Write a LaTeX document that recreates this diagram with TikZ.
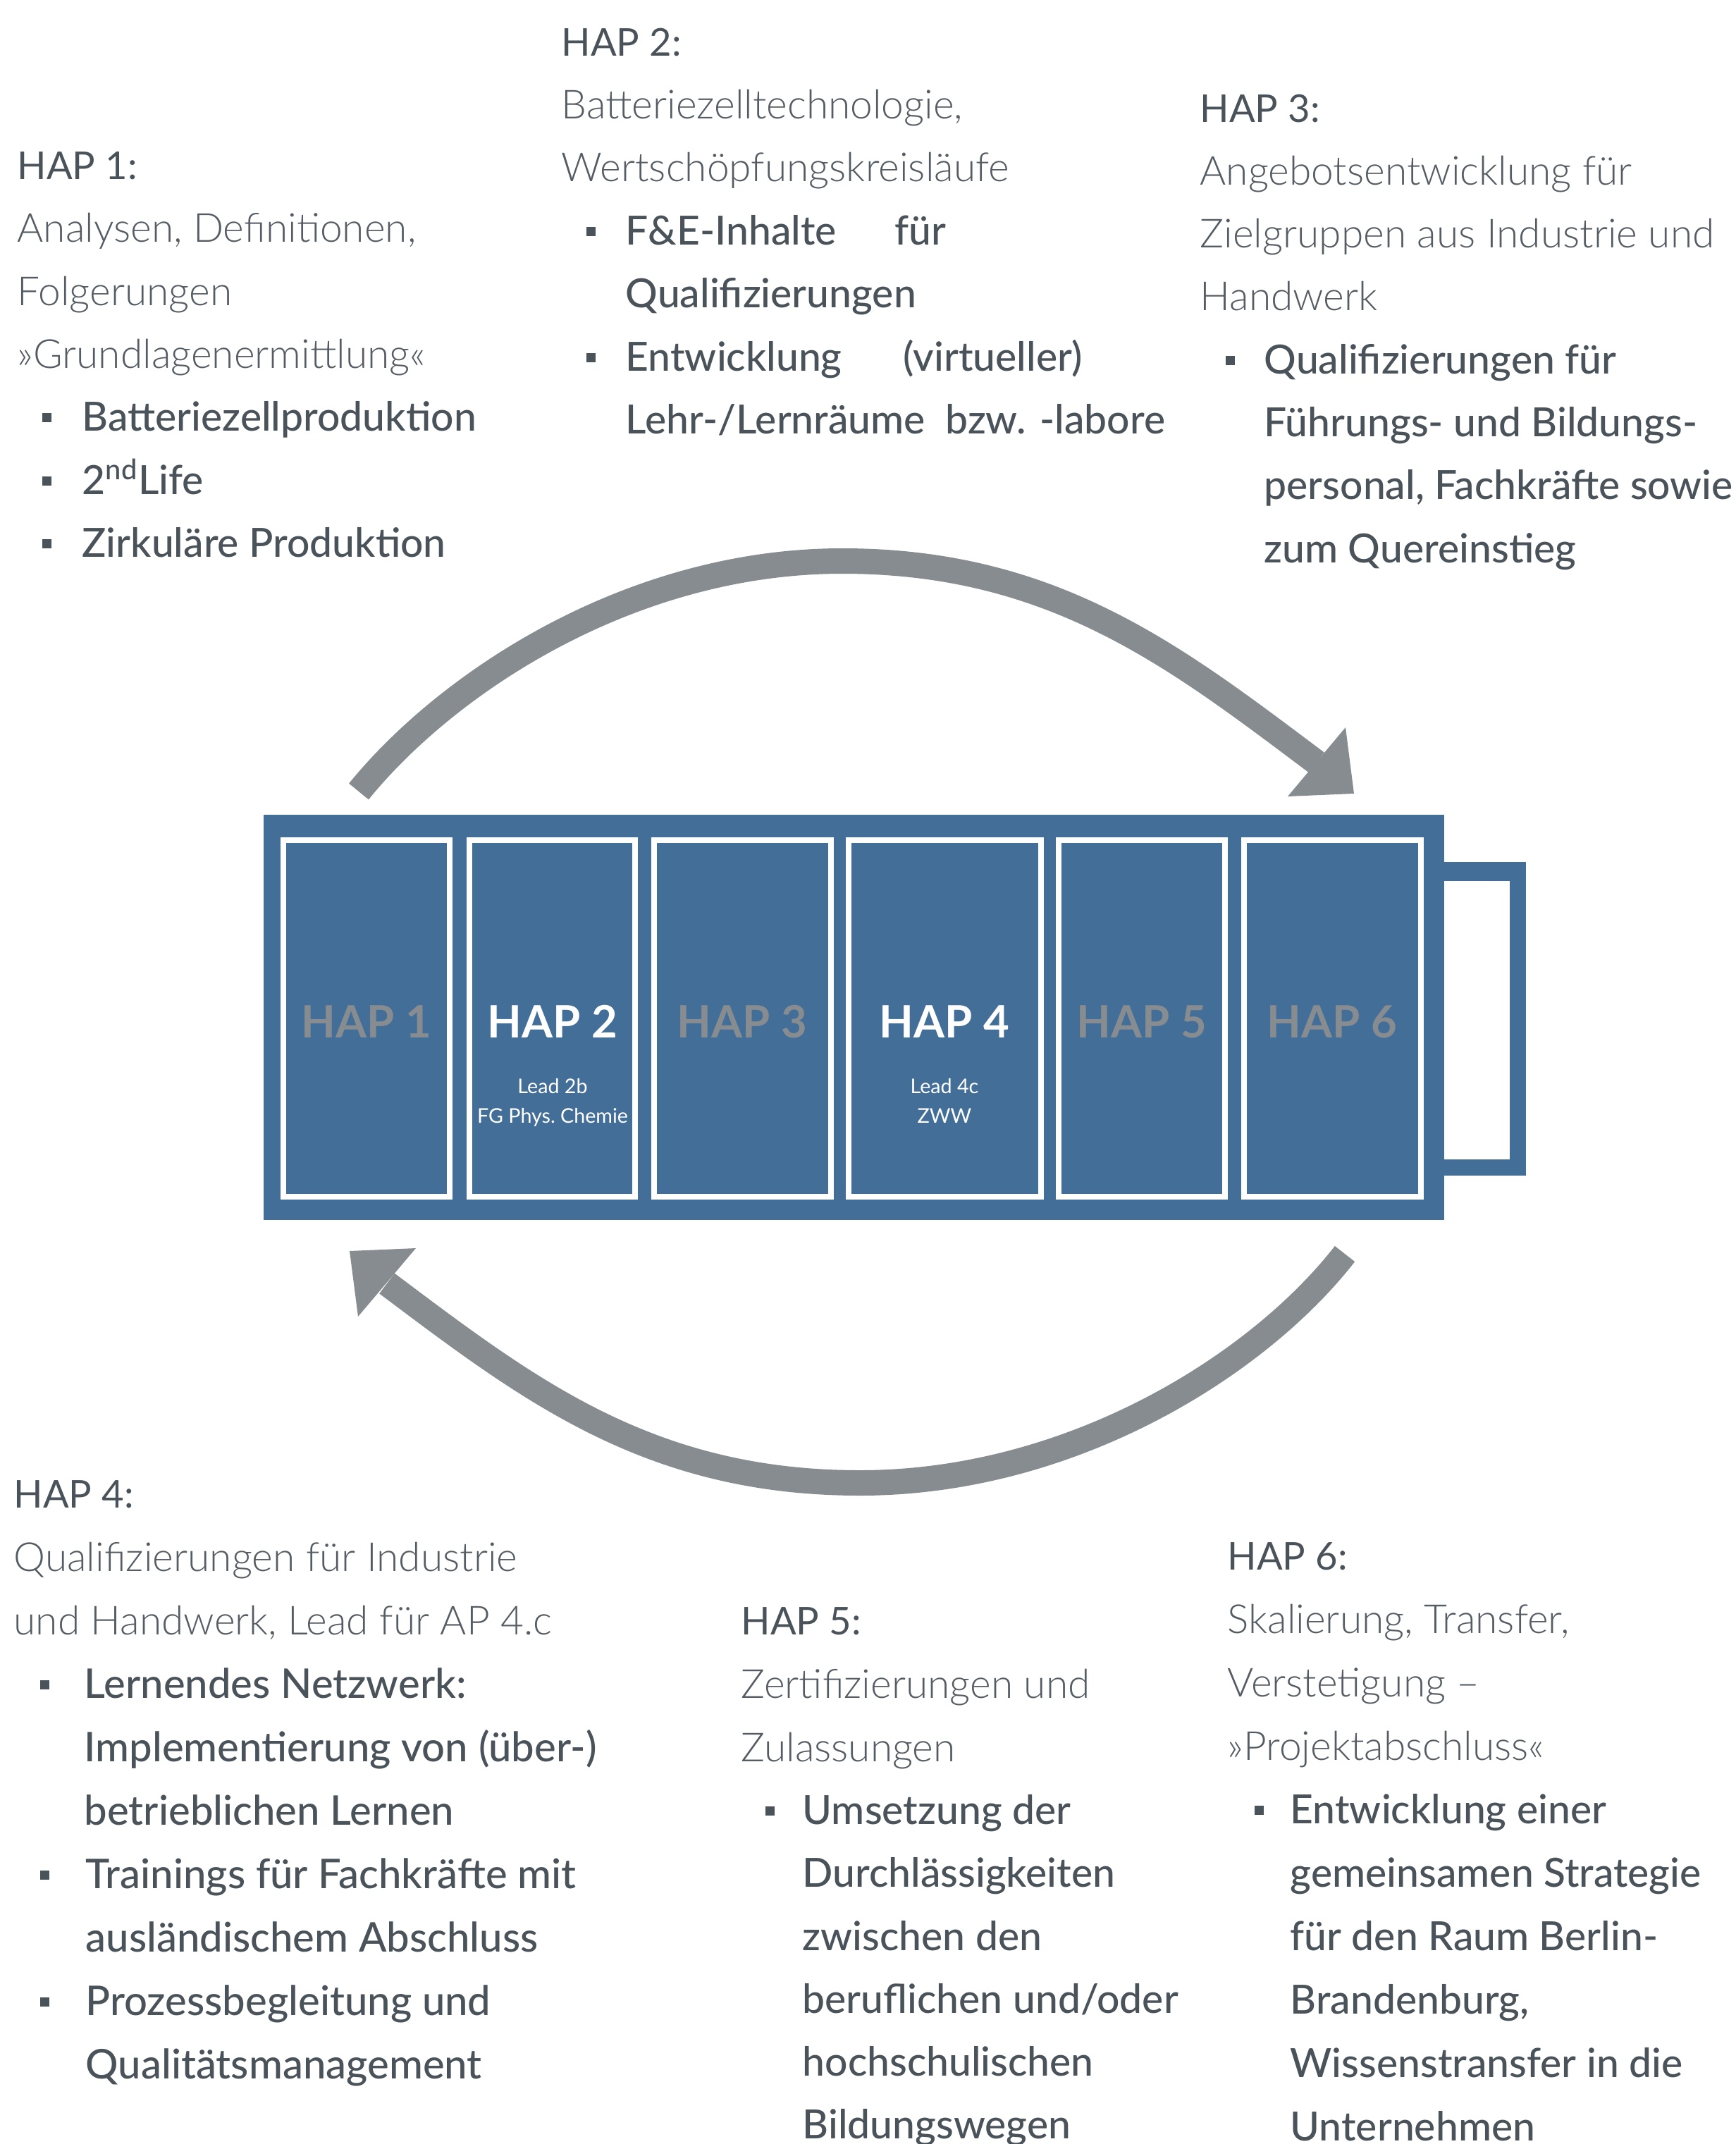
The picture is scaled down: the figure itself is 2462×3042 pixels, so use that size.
\documentclass[tikz,border=0pt]{standalone}
\usepackage{fontspec}
\setmainfont{Lato}
\newfontfamily\latofont{Lato}
\IfFontExistsTF{Lato Light}{\newfontfamily\latolight{Lato Light}}{\newfontfamily\latolight{Lato}}
\IfFontExistsTF{Lato Medium}{\newfontfamily\latomed{Lato Medium}}{\newfontfamily\latomed{Lato}[FakeBold=1.2]}
\definecolor{batblue}{HTML}{426E98}
\definecolor{arrgrey}{HTML}{878C91}
\definecolor{txtdark}{HTML}{4A525A}
\definecolor{txtlight}{HTML}{555C63}
\definecolor{celllbl}{HTML}{878C90}
\newcommand{\hdfont}{\latofont\fontsize{16.3}{19}\selectfont}
\newcommand{\blfont}{\latomed\fontsize{17.1}{19}\selectfont}
\newcommand{\blwfont}{\latomed\fontsize{17.4}{19}\selectfont}
\newcommand{\dsfont}{\latolight\fontsize{17.05}{19}\selectfont}
\tikzset{
  hd/.style={anchor=base west, inner sep=0pt, font=\hdfont, text=txtdark},
  ds/.style={anchor=base west, inner sep=0pt, font=\dsfont, text=txtlight},
  bl/.style={anchor=base west, inner sep=0pt, font=\blfont, text=txtdark},
  blw/.style={bl, font=\blwfont},
  sq/.style={fill=txtdark, draw=none, minimum size=3.9pt, inner sep=0pt, anchor=center},
  cellbox/.style={draw=white, line width=2.4pt},
  band/.style={draw=arrgrey, line width=10.8pt, line cap=butt},
  head/.style={fill=arrgrey},
  cl/.style={anchor=base, inner sep=0pt, font=\latofont\bfseries\fontsize{19}{23}\selectfont},
  sub/.style={anchor=base, inner sep=0pt, text=white, font=\latofont\fontsize{8.6}{11}\selectfont}
}
\begin{document}
\begin{tikzpicture}[x=0.3pt,y=-0.3pt]
\useasboundingbox (0,0) rectangle (2462,3042);
% battery
\fill[batblue] (2040,1223) rectangle (2165,1668);
\fill[white] (2049,1250) rectangle (2142,1645);
\fill[batblue] (374,1156) rectangle (2049,1731);
\draw[cellbox] (402,1192) rectangle (638,1698);
\draw[cellbox] (666,1192) rectangle (901,1698);
\draw[cellbox] (928,1192) rectangle (1179,1698);
\draw[cellbox] (1204,1192) rectangle (1477,1698);
\draw[cellbox] (1502,1192) rectangle (1738,1698);
\draw[cellbox] (1765,1192) rectangle (2016,1698);
\node[cl, text=celllbl] (c1) at (520,1472) {HAP 1};
\node[cl, text=white] (c2) at (784,1472) {HAP 2};
\node[cl, text=celllbl] (c3) at (1053,1472) {HAP 3};
\node[cl, text=white] (c4) at (1340,1472) {HAP 4};
\node[cl, text=celllbl] (c5) at (1620,1472) {HAP 5};
\node[cl, text=celllbl] (c6) at (1890,1472) {HAP 6};
\node[sub] (c2a) at (784,1551) {Lead 2b};
\node[sub] (c2b) at (784,1593) {FG Phys.\ Chemie};
\node[sub] (c4a) at (1340,1551) {Lead 4c};
\node[sub] (c4b) at (1340,1593) {ZWW};
% arrows
\coordinate (t0) at (509,1123);
\coordinate (tp) at (1195,796);
\coordinate (t1) at (1868,1082);
\draw[band] (t0) .. controls (635,968) and (895,796) .. (tp) .. controls (1495,796) and (1668,932) .. (t1);
\fill[head] (1909,1032) -- (1921,1126) -- (1827,1130) -- cycle;
\coordinate (b0) at (1908,1779);
\coordinate (bp) at (1220,2104);
\coordinate (b1) at (549,1821);
\draw[band] (b0) .. controls (1785,1937) and (1520,2104) .. (bp) .. controls (920,2104) and (749,1971) .. (b1);
\fill[head] (590,1771) -- (496,1775) -- (508,1868) -- cycle;
% HAP 1
\node[hd] (h1) at (24,254) {HAP 1:};
\node[ds] (h1a) at (24,343) {Analysen, Definitionen,};
\node[ds] (h1b) at (24,433) {Folgerungen};
\node[ds] (h1c) at (24,522) {»Grundlagenermittlung«};
\node[sq] (s11) at (66,592) {};
\node[bl] (h1d) at (116,611) {Batteriezellproduktion};
\node[sq] (s12) at (66,682) {};
\node[bl] (h1e) at (116,701) {2\textsuperscript{nd}Life};
\node[sq] (s13) at (66,771) {};
\node[bl] (h1f) at (116,790) {Zirkuläre Produktion};
% HAP 2
\node[hd] (h2) at (796,79) {HAP 2:};
\node[ds] (h2a) at (796,168) {Batteriezelltechnologie,};
\node[ds] (h2b) at (796,257) {Wertschöpfungskreisläufe};
\node[sq] (s21) at (838,328) {};
\node[bl] (h2c) at (887,347) {F\&E-Inhalte};
\node[bl] (h2c2) at (1269,347) {für};
\node[bl] (h2d) at (887,436) {Qualifizierungen};
\node[sq] (s22) at (838,507) {};
\node[bl] (h2e) at (887,526) {Entwicklung};
\node[bl] (h2e2) at (1281,526) {(virtueller)};
\node[bl] (h2f) at (887,615) {Lehr-/Lernräume\hspace{0.5em}bzw. -labore};
% HAP 3
\node[hd] (h3) at (1702,173) {HAP 3:};
\node[ds] (h3a) at (1702,262) {Angebotsentwicklung für};
\node[ds] (h3b) at (1702,351) {Zielgruppen aus Industrie und};
\node[ds] (h3c) at (1702,440) {Handwerk};
\node[sq] (s31) at (1745,511) {};
\node[bl] (h3d) at (1793,530) {Qualifizierungen für};
\node[bl] (h3e) at (1793,619) {Führungs- und Bildungs-};
\node[bl] (h3f) at (1793,708) {personal, Fachkräfte sowie};
\node[bl] (h3g) at (1793,798) {zum Quereinstieg};
% HAP 4
\node[hd] (h4) at (19,2139) {HAP 4:};
\node[ds] (h4a) at (19,2229) {Qualifizierungen für Industrie};
\node[ds] (h4b) at (19,2319) {und Handwerk, Lead für AP 4.c};
\node[sq] (s41) at (63,2390) {};
\node[blw] (h4c) at (119,2409) {Lernendes Netzwerk:};
\node[blw] (h4d) at (119,2499) {Implementierung von (über-)};
\node[blw] (h4e) at (119,2589) {betrieblichen Lernen};
\node[sq] (s42) at (63,2660) {};
\node[blw] (h4f) at (121,2679) {Trainings für Fachkräfte mit};
\node[blw] (h4g) at (121,2769) {ausländischem Abschluss};
\node[sq] (s43) at (63,2840) {};
\node[blw] (h4h) at (121,2859) {Prozessbegleitung und};
\node[blw] (h4i) at (121,2949) {Qualitätsmanagement};
% HAP 5
\node[hd] (h5) at (1051,2319) {HAP 5:};
\node[ds] (h5a) at (1051,2409) {Zertifizierungen und};
\node[ds] (h5b) at (1051,2499) {Zulassungen};
\node[sq] (s51) at (1092,2569) {};
\node[bl] (h5c) at (1138,2588) {Umsetzung der};
\node[bl] (h5d) at (1138,2677) {Durchlässigkeiten};
\node[bl] (h5e) at (1138,2767) {zwischen den};
\node[bl] (h5f) at (1138,2856) {beruflichen und/oder};
\node[bl] (h5g) at (1138,2945) {hochschulischen};
\node[bl] (h5h) at (1138,3034) {Bildungswegen};
% HAP 6
\node[hd] (h6) at (1741,2227) {HAP 6:};
\node[ds] (h6a) at (1741,2317) {Skalierung, Transfer,};
\node[ds] (h6b) at (1741,2407) {Verstetigung –};
\node[ds] (h6c) at (1741,2497) {»Projektabschluss«};
\node[sq] (s61) at (1786,2568) {};
\node[bl] (h6d) at (1830,2587) {Entwicklung einer};
\node[bl] (h6e) at (1830,2677) {gemeinsamen Strategie};
\node[bl] (h6f) at (1830,2767) {für den Raum Berlin-};
\node[bl] (h6g) at (1830,2857) {Brandenburg,};
\node[bl] (h6h) at (1830,2947) {Wissenstransfer in die};
\node[bl] (h6i) at (1830,3037) {Unternehmen};
\end{tikzpicture}
\end{document}
